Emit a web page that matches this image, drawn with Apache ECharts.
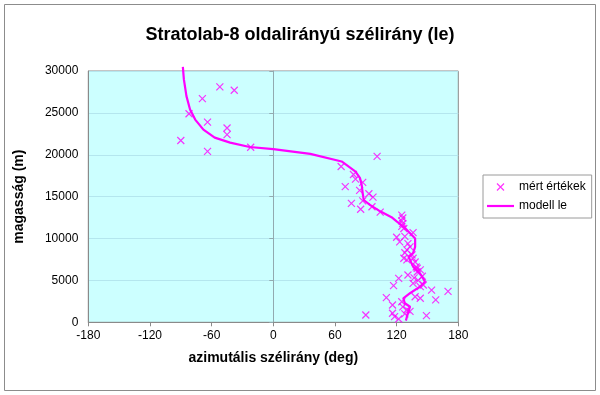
<!DOCTYPE html>
<html>
<head>
<meta charset="utf-8">
<script src="https://cdn.jsdelivr.net/npm/echarts@6/dist/echarts.min.js"></script>
<style>html,body{margin:0;padding:0;background:#fff}#c{width:600px;height:395px}</style>
</head>
<body>
<div id="c"></div>
<script>
// measured wind direction (deg, altitude m)
var measuredDir = [-52,-38,-69,-82,-64,-45,-45,-90,-64,-22,
  101,66,78,80,87,70,84,93,97,87,76,85,96,104,
  125,126,125,126,125,127,
  136,120,128,123,131,133,130,128,135,127,130,136,138,139,140,143,140,131,122,145,137,141,
  136,117,143,146,154,170,138,143,158,110,125,116,126,130,133,128,116,118,122,149,90];
var measuredAlt = [28100,27700,26700,24900,23900,23200,22400,21700,20400,20900,
  19800,18600,17650,17100,16700,16200,15750,15350,14950,14500,14200,13500,13800,13150,
  12800,12450,12100,11800,11450,11200,
  10700,10150,10250,9600,9400,9000,8650,8300,8050,7650,7450,7650,7200,6600,6450,6250,6000,5650,5250,5500,5300,5000,
  4650,4370,4250,4450,3850,3700,3050,2870,2670,2950,2450,2070,1850,1500,1300,1000,1080,670,390,790,870];
// model (deg, altitude m)
var modelDir = [-88,-87,-84.5,-81,-76,-68,-57,-42,-23,0,36,66.5,80,84.4,86,87,88,94,104,115,120,127,138,138,136,131.5,136,142.7,147.6,142.7,133,126.5,128,133,131.5,130,129];
var modelAlt = [30500,29000,27000,25400,24200,23000,22050,21450,20930,20680,20100,19200,18000,17200,16400,15400,14600,14020,13250,12550,12050,11400,10000,9000,8250,7850,6650,5850,4850,4250,3470,2870,2270,1860,1270,670,200];
var xTicks = {min:-180, max:180, interval:60};
var yTicks = {min:0, max:30000, interval:5000};
var seriesNames = ['mért értékek','modell le'];
var titleText = 'Stratolab-8 oldalirányú szélirány (le)';
var xName = 'azimutális szélirány (deg)';
var yName = 'magasság (m)';

var font = 'Arial, "Liberation Sans", sans-serif';
var scatterData = measuredDir.map(function(d,i){return [d, measuredAlt[i]];});
var lineData = modelDir.map(function(d,i){return [d, modelAlt[i]];});
var cross = 'path://M0,0L10,10M10,0L0,10';

var chart = echarts.init(document.getElementById('c'), null, {renderer:'canvas'});
chart.setOption({
  animation:false,
  backgroundColor:'#ffffff',
  textStyle:{fontFamily:font},
  graphic:[{type:'rect', shape:{x:4.5,y:4.5,width:591,height:386}, style:{fill:'none', stroke:'#8c8c8c', lineWidth:1}, silent:true}],
  title:{text:titleText, left:'center', top:21, textStyle:{fontFamily:font, fontSize:18, fontWeight:'bold', color:'#000'}},
  legend:{
    orient:'vertical', left:483, top:175, itemWidth:27, itemHeight:7, itemGap:7,
    padding:[6,6,6,4], borderColor:'#9a9a9a', borderWidth:1,
    textStyle:{fontFamily:font, fontSize:12, color:'#000'},
    data:[{name:seriesNames[0], icon:cross, itemStyle:{color:'rgba(0,0,0,0)', borderColor:'#ff00ff', borderWidth:1.2}},
          {name:seriesNames[1], icon:'path://M0,0h27v2.2h-27z', itemStyle:{color:'#ff00ff', borderWidth:0}}]
  },
  grid:{left:88.3, right:141.7, top:71, bottom:72.7, show:true, backgroundColor:'#ccffff', borderColor:'#8a8a8a', borderWidth:1},
  xAxis:{type:'value', min:xTicks.min, max:xTicks.max, interval:xTicks.interval,
    name:xName, nameLocation:'middle', nameGap:29,
    nameTextStyle:{fontFamily:font, fontSize:14, fontWeight:'bold', color:'#000'},
    axisLine:{onZero:false, lineStyle:{color:'#8a8a8a'}},
    axisTick:{show:true, length:4, lineStyle:{color:'#8a8a8a'}},
    axisLabel:{fontFamily:font, fontSize:12, color:'#000', margin:7},
    splitLine:{show:false}},
  yAxis:[{type:'value', min:yTicks.min, max:yTicks.max, interval:yTicks.interval,
    name:yName, nameLocation:'middle', nameGap:62,
    nameTextStyle:{fontFamily:font, fontSize:14, fontWeight:'bold', color:'#000'},
    axisLine:{onZero:false, show:true, lineStyle:{color:'#8a8a8a'}},
    axisTick:{show:false},
    axisLabel:{fontFamily:font, fontSize:12, color:'#000', margin:10, formatter:function(v){return String(v);}},
    splitLine:{show:true, lineStyle:{color:'#b4e6ee', width:1}}},
   {type:'value', min:yTicks.min, max:yTicks.max, interval:yTicks.interval, position:'left',
    axisLine:{onZero:true, show:true, lineStyle:{color:'#92aab0'}},
    axisTick:{show:true, length:4, lineStyle:{color:'#92aab0'}},
    axisLabel:{show:false}, splitLine:{show:false}}],
  series:[
    {name:seriesNames[0], type:'scatter', data:scatterData, symbol:cross, symbolSize:7,
     itemStyle:{color:'rgba(0,0,0,0)', borderColor:'#ff00ff', borderWidth:1.2}, z:3},
    {name:seriesNames[1], type:'line', data:lineData, showSymbol:false, symbol:'none', clip:false,
     lineStyle:{color:'#ff00ff', width:2.2}, itemStyle:{color:'#ff00ff'}, z:4}
  ]
});
</script>
</body>
</html>
